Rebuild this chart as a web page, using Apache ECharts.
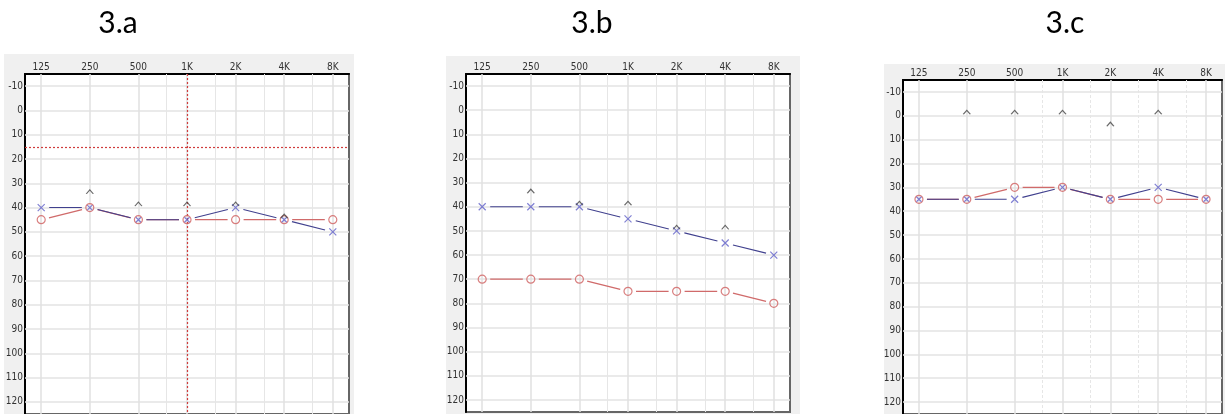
<!DOCTYPE html>
<html>
<head>
<meta charset="utf-8">
<script src="https://cdn.jsdelivr.net/npm/echarts@6/dist/echarts.min.js"></script>
<style>
html,body{margin:0;padding:0;background:#fff;}
#chart{width:1225px;height:414px;}
</style>
</head>
<body>
<div id="chart"></div>
<script>
// ---- data ----
const freqLabels = ['125', '250', '500', '1K', '2K', '4K', '8K'];
const halfOctaveFreqs = [750, 1500, 3000, 6000];
const dbTicks = [-10, 0, 10, 20, 30, 40, 50, 60, 70, 80, 90, 100, 110, 120];
const panelTitles = ['3.a', '3.b', '3.c'];

// left ear (blue X), right ear (red O), caret markers (^)
const aBlueX = [40, 40, 45, 45, 40, 45, 50];
const aRedO  = [45, 40, 45, 45, 45, 45, 45];
const aCaret = [null, 35, 40, 40, 40, 45, null];
const aCursorDb = [15];
const aCursorFreq = ['1K'];

const bBlueX = [40, 40, 40, 45, 50, 55, 60];
const bRedO  = [70, 70, 70, 75, 75, 75, 80];
const bCaret = [null, 35, 40, 40, 50, 50, null];

const cBlueX = [35, 35, 35, 30, 35, 30, 35];
const cRedO  = [35, 35, 30, 30, 35, 35, 35];
const cCaret = [null, 0, 0, 0, 5, 0, null];

// ---- layout / style ----
const panels = [
  {blue: aBlueX, red: aRedO, caret: aCaret, cursorDb: aCursorDb, cursorFreq: aCursorFreq,
   grid: {left: 25, top: 74, width: 324, height: 340},
   bg: {x: 4, y: 54, width: 350, height: 360}, title: {x: 118, y: 23}, halfDashed: false},
  {blue: bBlueX, red: bRedO, caret: bCaret, cursorDb: [], cursorFreq: [],
   grid: {left: 466, top: 74, width: 324, height: 338},
   bg: {x: 446, y: 56, width: 354, height: 358}, title: {x: 592, y: 23}, halfDashed: false},
  {blue: cBlueX, red: cRedO, caret: cCaret, cursorDb: [], cursorFreq: [],
   grid: {left: 903, top: 80, width: 321, height: 335},
   bg: {x: 884, y: 64, width: 341, height: 350}, title: {x: 1065, y: 23}, halfDashed: true}
];

const BLUE_MARK = '#6060c8', BLUE_LINE = '#40408e';
const RED_MARK = '#d06060', RED_LINE = '#d06a6a';
const CURSOR = '#d03c3c';
const LABEL_FONT = '"Liberation Sans Narrow", "DejaVu Sans Condensed", "Liberation Sans", sans-serif';
const X_PATH = 'path://M0,0L10,10M10,0L0,10';
const CARET_PATH = 'path://M0,5L5,0L10,5';
const GAP = 8;

function segRender(color, width) {
  return function (params, api) {
    const p1 = api.coord([api.value(0), api.value(1)]);
    const p2 = api.coord([api.value(2), api.value(3)]);
    const dx = p2[0] - p1[0], dy = p2[1] - p1[1];
    const len = Math.hypot(dx, dy);
    if (len <= 2 * GAP) return null;
    const ux = dx / len, uy = dy / len;
    return {
      type: 'line',
      shape: {x1: p1[0] + ux * GAP, y1: p1[1] + uy * GAP, x2: p2[0] - ux * GAP, y2: p2[1] - uy * GAP},
      style: {stroke: color, lineWidth: width}
    };
  };
}
function segments(vals) {
  const out = [];
  for (let i = 0; i < vals.length - 1; i++) out.push([i, vals[i], i + 1, vals[i + 1]]);
  return out;
}
function points(vals) {
  const out = [];
  vals.forEach((v, i) => { if (v !== null) out.push([i, v]); });
  return out;
}
const octavePos = f => Math.log2(f / 125);

const grids = [], xAxes = [], yAxes = [], series = [], graphics = [];
panels.forEach((p, k) => {
  grids.push(Object.assign({show: true, backgroundColor: '#fff', borderColor: '#666', borderWidth: 2}, p.grid));
  xAxes.push({
    gridIndex: k, type: 'value', position: 'top', min: -1 / 3, max: 19 / 3, interval: 1 / 3,
    axisLine: {show: true, onZero: false, lineStyle: {color: '#000', width: 2}},
    axisTick: {show: false}, splitLine: {show: false},
    axisLabel: {
      margin: 2, fontSize: 10, color: '#333', fontFamily: LABEL_FONT,
      showMinLabel: true, showMaxLabel: true,
      formatter: v => { const r = Math.round(v); return (Math.abs(v - r) < 1e-6 && r >= 0 && r < freqLabels.length) ? freqLabels[r] : ''; }
    }
  });
  yAxes.push({
    gridIndex: k, type: 'value', inverse: true, min: -15, max: 125, interval: 5,
    axisLine: {show: true, onZero: false, lineStyle: {color: '#000', width: 2}},
    axisTick: {show: false}, splitLine: {show: false},
    axisLabel: {
      margin: 2, fontSize: 10, color: '#333', fontFamily: LABEL_FONT,
      formatter: v => (dbTicks.indexOf(v) >= 0 ? String(v) : '')
    }
  });
  // grid lines
  const gridLines = [];
  dbTicks.forEach(d => gridLines.push({yAxis: d, lineStyle: {color: '#e3e3e3', width: 1.5, type: 'solid'}}));
  freqLabels.forEach((f, i) => gridLines.push({xAxis: i, lineStyle: {color: '#e0e0e0', width: 1.5, type: 'solid'}}));
  halfOctaveFreqs.forEach(f => gridLines.push({xAxis: octavePos(f), lineStyle: {color: '#e6e6e6', width: 1, type: p.halfDashed ? [3, 2] : 'solid'}}));
  series.push({
    type: 'scatter', xAxisIndex: k, yAxisIndex: k, data: [], z: 1, silent: true,
    markLine: {z: 1, silent: true, symbol: ['none', 'none'], label: {show: false}, animation: false, data: gridLines}
  });
  // cursor lines (red dotted)
  const cursorLines = [];
  p.cursorDb.forEach(d => cursorLines.push({yAxis: d}));
  p.cursorFreq.forEach(f => cursorLines.push({xAxis: freqLabels.indexOf(f)}));
  if (cursorLines.length) {
    series.push({
      type: 'scatter', xAxisIndex: k, yAxisIndex: k, data: [], z: 2, silent: true,
      markLine: {z: 2, silent: true, symbol: ['none', 'none'], label: {show: false}, animation: false,
        lineStyle: {color: CURSOR, width: 1.2, type: [2, 2], opacity: 1}, data: cursorLines}
    });
  }
  // connecting lines (red under blue)
  series.push({
    type: 'custom', xAxisIndex: k, yAxisIndex: k, z: 3, silent: true,
    encode: {x: [0, 2], y: [1, 3]}, data: segments(p.red), renderItem: segRender(RED_LINE, 1.3)
  });
  series.push({
    type: 'custom', xAxisIndex: k, yAxisIndex: k, z: 4, silent: true,
    encode: {x: [0, 2], y: [1, 3]}, data: segments(p.blue), renderItem: segRender(BLUE_LINE, 1.1)
  });
  // markers
  series.push({
    type: 'scatter', xAxisIndex: k, yAxisIndex: k, z: 5, silent: true,
    data: points(p.red), symbol: 'circle', symbolSize: 8,
    itemStyle: {color: 'transparent', borderColor: RED_MARK, borderWidth: 1.2}
  });
  const red = p.red;
  series.push({
    type: 'scatter', xAxisIndex: k, yAxisIndex: k, z: 6, silent: true,
    data: points(p.blue), symbol: X_PATH,
    symbolSize: (val) => (red[val[0]] === val[1] ? 5 : 7),
    itemStyle: {color: 'transparent', borderColor: BLUE_MARK, borderWidth: 1.2}
  });
  series.push({
    type: 'scatter', xAxisIndex: k, yAxisIndex: k, z: 7, silent: true,
    data: points(p.caret), symbol: CARET_PATH, symbolSize: [7, 4], symbolOffset: [0, -3.5],
    itemStyle: {color: 'transparent', borderColor: '#444', borderWidth: 1}
  });
  graphics.push({type: 'rect', z: -100, shape: p.bg, style: {fill: '#f0f0f0'}, silent: true});
  graphics.push({type: 'text', x: p.title.x, y: p.title.y, silent: true,
    style: {text: panelTitles[k], font: '30px Lato, "Open Sans", sans-serif', fill: '#000', align: 'center', verticalAlign: 'middle'}});
});

const chart = echarts.init(document.getElementById('chart'), null, {renderer: 'canvas'});
chart.setOption({
  animation: false,
  backgroundColor: '#fff',
  grid: grids, xAxis: xAxes, yAxis: yAxes, series: series,
  graphic: graphics
});
</script>
</body>
</html>
